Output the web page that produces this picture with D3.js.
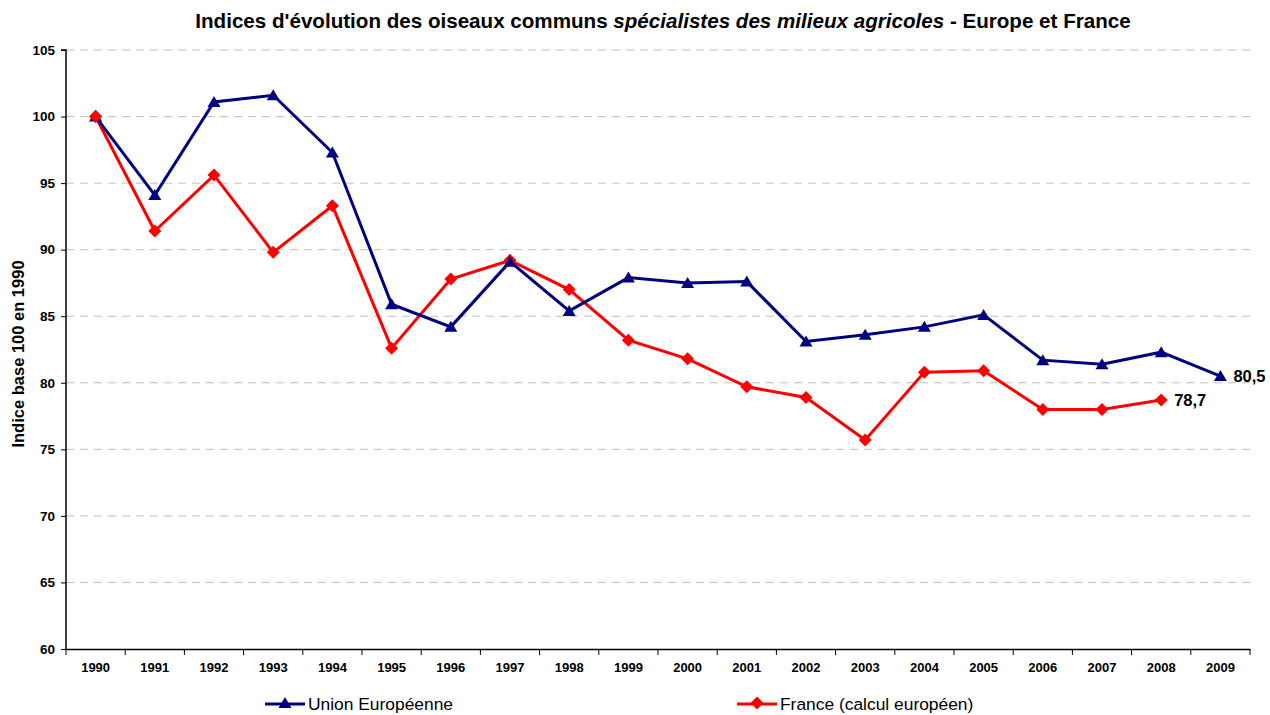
<!DOCTYPE html>
<html><head><meta charset="utf-8">
<script src="https://cdn.jsdelivr.net/npm/d3@7"></script>
<style>body{margin:0;background:#fff;}svg{display:block;font-family:"Liberation Sans",Arial,sans-serif;}</style>
</head><body>
<svg id="c" width="1270" height="715"></svg>
<script>
const years = ["1990","1991","1992","1993","1994","1995","1996","1997","1998","1999","2000","2001","2002","2003","2004","2005","2006","2007","2008","2009"];
const euValues = [100,94.1,101.1,101.6,97.3,85.9,84.2,89.1,85.4,87.9,87.5,87.6,83.1,83.6,84.2,85.1,81.7,81.4,82.3,80.5];
const frValues = [100,91.4,95.6,89.8,93.3,82.6,87.8,89.2,87.0,83.2,81.8,79.7,78.9,75.7,80.8,80.9,78.0,78.0,78.7];
const yTicks = [60,65,70,75,80,85,90,95,100,105];
const seriesNames = ["Union Européenne","France (calcul européen)"];

const svg = d3.select("#c");
const pL=66, pR=1250, pT=50, pB=649;
const x = d3.scaleBand().domain(years).range([pL,pR]);
const y = d3.scaleLinear().domain([60,105]).range([pB,pT]);
const cx = d => x(d)+x.bandwidth()/2;

// title
const title = svg.append("text").attr("x",663).attr("y",28).attr("text-anchor","middle")
  .attr("font-size",20.6).attr("font-weight","bold").attr("fill","#000");
title.append("tspan").text("Indices d'évolution des oiseaux communs ");
title.append("tspan").attr("font-style","italic").text("spécialistes des milieux agricoles");
title.append("tspan").text("  - Europe et France");

// grid
svg.append("g").selectAll("line").data(yTicks.filter(t=>t>60)).join("line")
  .attr("x1",pL).attr("x2",pR).attr("y1",d=>y(d)).attr("y2",d=>y(d))
  .attr("stroke","#c0c0c0").attr("stroke-width",1).attr("stroke-dasharray","8,6");

// y axis
const ya = svg.append("g").attr("transform",`translate(${pL},0)`)
  .call(d3.axisLeft(y).tickValues(yTicks).tickSize(5).tickPadding(6).tickFormat(d3.format("d")));
ya.select(".domain").attr("stroke","#000").attr("stroke-width",1.5).attr("d",`M-5,${pT}H0V${pB}`);
ya.selectAll("text").attr("font-size",13.5).attr("font-weight","bold").attr("font-family","Liberation Sans, Arial").attr("fill","#000");

// x axis
const xa = svg.append("g").attr("transform",`translate(0,${pB})`)
  .call(d3.axisBottom(x).tickSize(0).tickPadding(14));
xa.select(".domain").attr("stroke","#000").attr("stroke-width",1.5);
xa.selectAll("text").attr("font-size",13).attr("font-weight","bold").attr("font-family","Liberation Sans, Arial").attr("fill","#000");
svg.append("g").selectAll("line").data(years.concat(["end"])).join("line")
  .attr("x1",(d,i)=>pL+i*x.bandwidth()).attr("x2",(d,i)=>pL+i*x.bandwidth())
  .attr("y1",pB).attr("y2",pB+6).attr("stroke","#000").attr("stroke-width",1);

// y title
svg.append("text").attr("transform","translate(24,354) rotate(-90)").attr("text-anchor","middle")
  .attr("font-size",16.5).attr("font-weight","bold").text("Indice base 100 en 1990");

const line = d3.line().x((d,i)=>cx(years[i])).y(d=>y(d));
const tri = "M0,-6L6.5,5L-6.5,5Z";
const dia = "M0,-6.5L6.5,0L0,6.5L-6.5,0Z";

// France
svg.append("path").datum(frValues).attr("d",line).attr("fill","none").attr("stroke","#ff0000").attr("stroke-width",3);
svg.append("g").selectAll("path").data(frValues).join("path")
  .attr("d",dia).attr("transform",(d,i)=>`translate(${cx(years[i])},${y(d)})`).attr("fill","#ff0000");

// EU
svg.append("path").datum(euValues).attr("d",line).attr("fill","none").attr("stroke","#000080").attr("stroke-width",3);
svg.append("g").selectAll("path").data(euValues).join("path")
  .attr("d",tri).attr("transform",(d,i)=>`translate(${cx(years[i])},${y(d)})`).attr("fill","#000080");
// France 1990 marker drawn on top as in reference
svg.append("path").attr("d",dia).attr("transform",`translate(${cx(years[0])},${y(frValues[0])})`).attr("fill","#ff0000");

// end labels
const fmt = v => d3.format(".1f")(v).replace(".",",");
const le = euValues.length-1, lf = frValues.length-1;
svg.append("text").attr("x",cx(years[le])+13).attr("y",y(euValues[le])+6).attr("font-size",16.5).attr("font-weight","bold").text(fmt(euValues[le]));
svg.append("text").attr("x",cx(years[lf])+13).attr("y",y(frValues[lf])+6).attr("font-size",16.5).attr("font-weight","bold").text(fmt(frValues[lf]));

// legend
const lg = [{x:265,c:"#000080",s:tri,n:seriesNames[0]},{x:737,c:"#ff0000",s:dia,n:seriesNames[1]}];
lg.forEach(o=>{
  svg.append("line").attr("x1",o.x).attr("x2",o.x+40).attr("y1",704).attr("y2",704).attr("stroke",o.c).attr("stroke-width",3);
  svg.append("path").attr("d",o.s).attr("transform",`translate(${o.x+20},${703})`).attr("fill",o.c);
  svg.append("text").attr("x",o.x+43).attr("y",710).attr("font-size",17.4).text(o.n);
});
</script>
</body></html>
